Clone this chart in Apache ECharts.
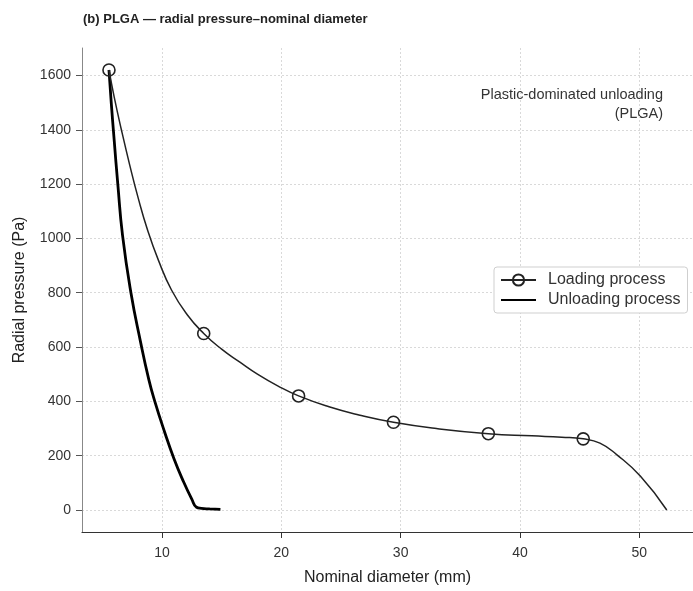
<!DOCTYPE html>
<html>
<head>
<meta charset="utf-8">
<script src="https://cdn.jsdelivr.net/npm/echarts@6/dist/echarts.min.js"></script>
<style>
  html, body { margin: 0; padding: 0; background: #fff; }
  #main { width: 693px; height: 591px; }
</style>
</head>
<body>
<div id="main"></div>
<script>
// loading curve
var loadX = [5.56, 6.0, 6.6, 7.3, 8.0, 8.8, 9.7, 10.8, 12.1, 13.5, 15.0, 16.5, 18.0, 19.7, 21.45, 24.0, 26.5, 29.4, 33.0, 37.35, 41.0, 43.5, 45.3, 46.7, 48.1, 50.1, 52.3];
var loadY = [1620, 1520, 1400, 1270, 1150, 1030, 920, 810, 720, 650, 592, 545, 500, 457, 420, 380, 350, 323, 300, 281, 273, 268, 262, 246, 204, 124, 0];
// which loading points carry a circle marker
var loadMarks = [0, 9, 14, 17, 19, 22];

// unloading curve
var unloadX = [5.56, 5.75, 6.0, 6.3, 6.7, 7.4, 8.2, 8.9, 9.4, 10.2, 11.0, 11.8, 12.5, 12.9, 13.3, 14.0, 14.9];
var unloadY = [1620, 1500, 1360, 1200, 1010, 800, 620, 480, 400, 290, 190, 105, 40, 10, 6, 4, 2];

var xTicks = [10, 20, 30, 40, 50];
var yTicks = [0, 200, 400, 600, 800, 1000, 1200, 1400, 1600];

var font = '"Liberation Sans", Arial, sans-serif';

var loadData = loadX.map(function (x, i) {
    var item = {value: [x, loadY[i]]};
    if (loadMarks.indexOf(i) < 0) {
        item.symbol = 'none';
    }
    return item;
});
var unloadData = unloadX.map(function (x, i) {
    return [x, unloadY[i]];
});

var chart = echarts.init(document.getElementById('main'));

var gridLine = {
    show: true,
    lineStyle: {color: '#d9d9d9', type: [2, 2], width: 1}
};

var option = {
    backgroundColor: '#fff',
    animation: false,
    textStyle: {fontFamily: font},
    title: {
        text: '(b) PLGA \u2014 radial pressure\u2013nominal diameter',
        left: 78,
        top: 8,
        textStyle: {fontSize: 13, fontWeight: 'bold', color: '#222', fontFamily: font}
    },
    graphic: [
        {
            type: 'text',
            right: 30,
            top: 87,
            style: {text: 'Plastic-dominated unloading', font: '14.5px ' + font, fill: '#333'}
        },
        {
            type: 'text',
            right: 30,
            top: 106,
            style: {text: '(PLGA)', font: '14.5px ' + font, fill: '#333'}
        }
    ],
    legend: {
        left: 494,
        top: 267,
        orient: 'vertical',
        itemWidth: 35,
        itemHeight: 14,
        itemGap: 4,
        padding: [5, 7, 5, 6],
        borderColor: '#cfcfcf',
        borderWidth: 1,
        borderRadius: 3,
        backgroundColor: '#fff',
        textStyle: {fontSize: 16, color: '#333', fontFamily: font, padding: [0, 0, 0, 7]},
        data: [
            {name: 'Loading process'},
            {name: 'Unloading process', itemStyle: {opacity: 0}}
        ]
    },
    grid: {left: 82, right: 0, top: 48, bottom: 59, containLabel: false},
    xAxis: {
        type: 'value',
        min: 3.3,
        max: 54.5,
        name: 'Nominal diameter (mm)',
        nameLocation: 'middle',
        nameGap: 38,
        nameTextStyle: {fontSize: 16, color: '#222'},
        axisLine: {show: true, onZero: false, lineStyle: {color: '#333', width: 1.2}},
        axisTick: {show: true, length: 6, customValues: xTicks, lineStyle: {color: '#333'}},
        axisLabel: {customValues: xTicks, margin: 14, fontSize: 14, color: '#333'},
        splitLine: gridLine
    },
    yAxis: {
        type: 'value',
        min: -81,
        max: 1701,
        name: 'Radial pressure (Pa)',
        nameLocation: 'middle',
        nameGap: 54,
        nameTextStyle: {fontSize: 16, color: '#222'},
        axisLine: {show: true, onZero: false, lineStyle: {color: '#888', width: 1}},
        axisTick: {show: true, length: 6, customValues: yTicks, lineStyle: {color: '#555'}},
        axisLabel: {
            customValues: yTicks,
            margin: 11,
            fontSize: 14,
            color: '#333',
            formatter: function (v) { return String(v); }
        },
        splitLine: gridLine
    },
    series: [
        {
            name: 'Loading process',
            type: 'line',
            data: loadData,
            smooth: 0.5,
            symbol: 'circle',
            symbolSize: 12,
            showAllSymbol: true,
            itemStyle: {color: 'rgba(255,255,255,0)', borderColor: '#222', borderWidth: 1.6},
            lineStyle: {color: '#222', width: 1.5},
            z: 3
        },
        {
            name: 'Unloading process',
            type: 'line',
            data: unloadData,
            smooth: 0.5,
            symbol: 'none',
            itemStyle: {color: '#000'},
            lineStyle: {color: '#000', width: 2.8},
            z: 2
        }
    ]
};

chart.setOption(option);
</script>
</body>
</html>
